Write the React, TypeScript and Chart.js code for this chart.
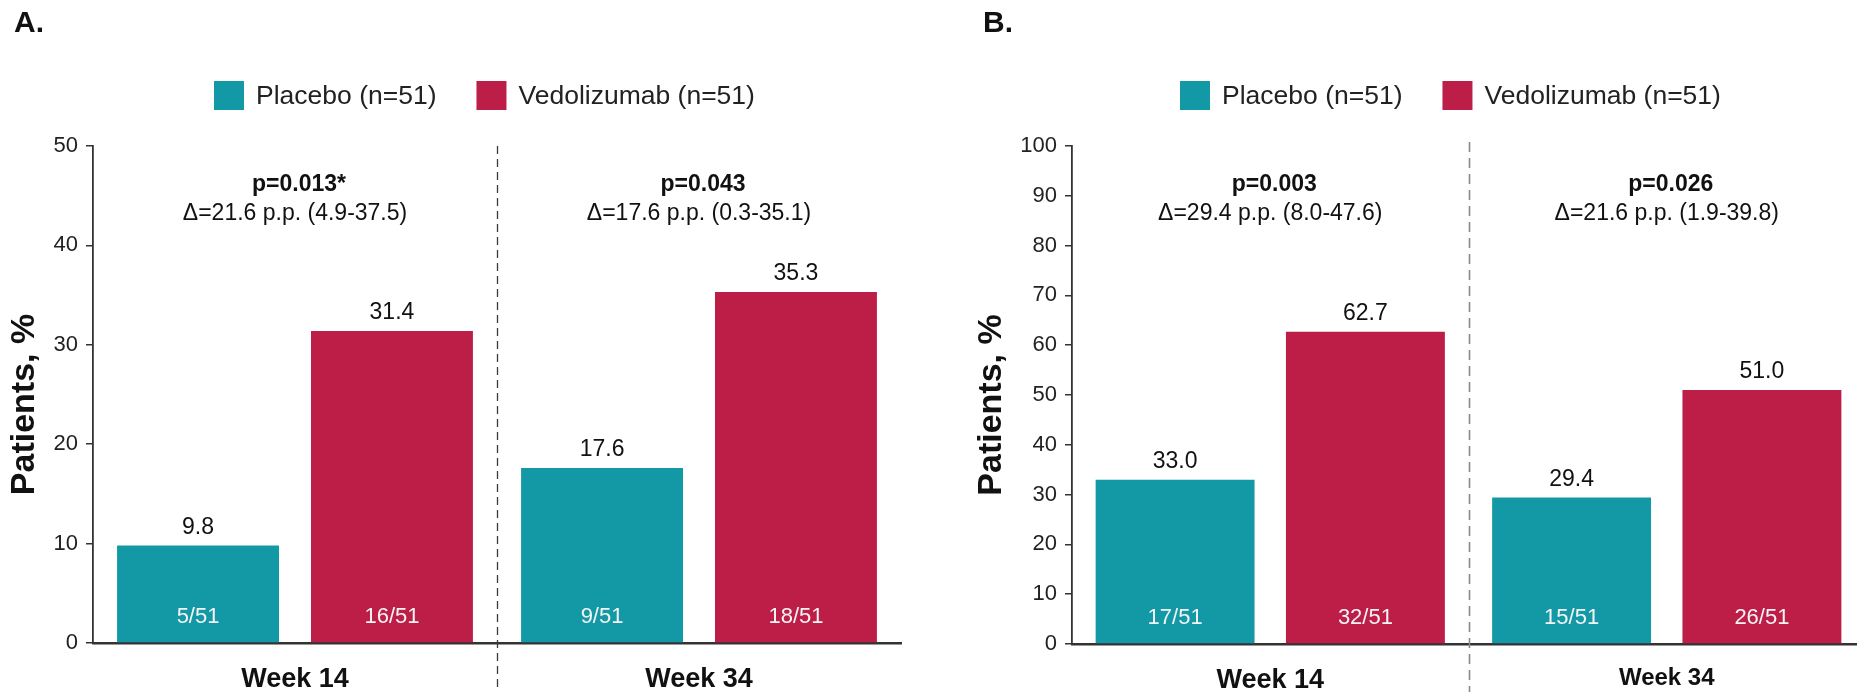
import React, { useEffect, useRef } from 'react';
import { Chart, registerables } from 'chart.js';

Chart.register(...registerables);

// ---------- data ----------
const categories = ['Week 14', 'Week 34'];
const seriesNames = ['Placebo (n=51)', 'Vedolizumab (n=51)'];

const aPlacebo = [9.8, 17.6];
const aVedolizumab = [31.4, 35.3];
const aPlaceboCounts = ['5/51', '9/51'];
const aVedolizumabCounts = ['16/51', '18/51'];
const aPValues = ['p=0.013*', 'p=0.043'];
const aDeltas = ['Δ=21.6 p.p. (4.9-37.5)', 'Δ=17.6 p.p. (0.3-35.1)'];
const aYMax = 50;

const bPlacebo = [33.0, 29.4];
const bVedolizumab = [62.7, 51.0];
const bPlaceboCounts = ['17/51', '15/51'];
const bVedolizumabCounts = ['32/51', '26/51'];
const bPValues = ['p=0.003', 'p=0.026'];
const bDeltas = ['Δ=29.4 p.p. (8.0-47.6)', 'Δ=21.6 p.p. (1.9-39.8)'];
const bYMax = 100;

const yStep = 10;
const yTitle = 'Patients, %';

// ---------- styles ----------
const FONT = '"Liberation Sans", Arial, Helvetica, sans-serif';
const PLACEBO_COLOR = '#1399a6';
const VEDO_COLOR = '#bd1e47';
const TEXT = '#111111';
const AXIS = '#333333';

const panels = [
  {
    letter: 'A.',
    placebo: aPlacebo, vedo: aVedolizumab,
    placeboCounts: aPlaceboCounts, vedoCounts: aVedolizumabCounts,
    pValues: aPValues, deltas: aDeltas, yMax: aYMax,
    canvasLeft: 0, canvasWidth: 930, padRight: 29, yAxisWidth: 93, titleX: 25,
    top: 146, xAxisHeight: 49, legendX: 214, letterX: 14,
    weekFont: [27, 27], dividerColor: '#3a3a3a', dividerWidth: 1.3, dividerDash: [8, 5], dividerTop: 146,
  },
  {
    letter: 'B.',
    placebo: bPlacebo, vedo: bVedolizumab,
    placeboCounts: bPlaceboCounts, vedoCounts: bVedolizumabCounts,
    pValues: bPValues, deltas: bDeltas, yMax: bYMax,
    canvasLeft: 930, canvasWidth: 940, padRight: 5, yAxisWidth: 142, titleX: 62,
    top: 146, xAxisHeight: 48, legendX: 250, letterX: 53,
    weekFont: [27, 24], dividerColor: '#8a8a8a', dividerWidth: 1.6, dividerDash: [10, 6], dividerTop: 142,
  },
];

function makePlugin(p: any) {
  return {
    id: 'annot' + p.letter,
    beforeDatasetsDraw(chart: any) {
      const ctx = chart.ctx;
      const xs = chart.scales.x;
      const x = (xs.getPixelForValue(0) + xs.getPixelForValue(1)) / 2;
      ctx.save();
      ctx.strokeStyle = p.dividerColor;
      ctx.lineWidth = p.dividerWidth;
      ctx.setLineDash(p.dividerDash);
      ctx.beginPath();
      ctx.moveTo(Math.round(x) + 0.5, p.dividerTop);
      ctx.lineTo(Math.round(x) + 0.5, chart.height);
      ctx.stroke();
      ctx.restore();
    },
    afterDatasetsDraw(chart: any) {
      const ctx = chart.ctx;
      const area = chart.chartArea;
      const xs = chart.scales.x;
      ctx.save();
      ctx.textAlign = 'center';
      ctx.textBaseline = 'alphabetic';
      const counts = [p.placeboCounts, p.vedoCounts];
      chart.data.datasets.forEach((ds: any, i: number) => {
        const meta = chart.getDatasetMeta(i);
        meta.data.forEach((el: any, j: number) => {
          ctx.fillStyle = TEXT;
          ctx.font = `23px ${FONT}`;
          ctx.fillText(Number(ds.data[j]).toFixed(1), el.x, el.y - 12);
          ctx.fillStyle = '#f4f4f4';
          ctx.font = `22px ${FONT}`;
          ctx.fillText(counts[i][j], el.x, area.bottom - 20);
        });
      });
      categories.forEach((_, j) => {
        const cx = xs.getPixelForValue(j);
        ctx.fillStyle = TEXT;
        ctx.font = `bold 23px ${FONT}`;
        ctx.fillText(p.pValues[j], cx + 4, area.top + 45);
        ctx.font = `23px ${FONT}`;
        ctx.fillText(p.deltas[j], cx, area.top + 74);
      });
      ctx.restore();
    },
    afterDraw(chart: any) {
      const ctx = chart.ctx;
      const area = chart.chartArea;
      ctx.save();
      // y axis title
      ctx.save();
      ctx.translate(p.titleX, (area.top + area.bottom) / 2 + 10);
      ctx.rotate(-Math.PI / 2);
      ctx.fillStyle = TEXT;
      ctx.textAlign = 'center';
      ctx.textBaseline = 'middle';
      ctx.font = `bold 34px ${FONT}`;
      ctx.fillText(yTitle, 0, 0);
      ctx.restore();
      // panel letter
      ctx.fillStyle = TEXT;
      ctx.textAlign = 'left';
      ctx.textBaseline = 'alphabetic';
      ctx.font = `bold 30px ${FONT}`;
      ctx.fillText(p.letter, p.letterX, 32);
      // legend
      const colors = [PLACEBO_COLOR, VEDO_COLOR];
      ctx.font = `26.5px ${FONT}`;
      ctx.textBaseline = 'middle';
      let x = p.legendX;
      const boxTop = 81, boxSize = 29, boxW = 30;
      seriesNames.forEach((name, i) => {
        ctx.fillStyle = colors[i];
        ctx.fillRect(x, boxTop, boxW, boxSize);
        x += boxW + 12;
        ctx.fillStyle = '#222222';
        ctx.fillText(name, x, boxTop + boxSize / 2 + 1);
        x += ctx.measureText(name).width + 40;
      });
      ctx.restore();
    },
  };
}

function buildConfig(p: any): any {
  return {
    type: 'bar',
    data: {
      labels: categories,
      datasets: [
        { label: seriesNames[0], data: p.placebo, backgroundColor: PLACEBO_COLOR, categoryPercentage: 0.96, barPercentage: 0.835 },
        { label: seriesNames[1], data: p.vedo, backgroundColor: VEDO_COLOR, categoryPercentage: 0.96, barPercentage: 0.835 },
      ],
    },
    options: {
      responsive: false,
      animation: false,
      devicePixelRatio: 1,
      layout: { padding: { top: p.top, left: 0, right: p.padRight, bottom: 0 } },
      plugins: { legend: { display: false }, tooltip: { enabled: false }, title: { display: false } },
      scales: {
        x: {
          grid: { display: false, drawTicks: false },
          border: { display: true, color: AXIS, width: 2.5 },
          afterFit: (s: any) => { s.height = p.xAxisHeight; },
          ticks: {
            color: TEXT,
            padding: 20,
            font: (c: any) => ({ family: FONT, size: p.weekFont[c.index] || 27, weight: 'bold' }),
          },
        },
        y: {
          min: 0,
          max: p.yMax,
          afterFit: (s: any) => { s.width = p.yAxisWidth; },
          grid: { drawOnChartArea: false, drawTicks: true, tickLength: 7, color: AXIS, lineWidth: 1.5 },
          border: { display: true, color: AXIS, width: 1.8 },
          ticks: { stepSize: yStep, color: '#222222', padding: 8, font: { family: FONT, size: 22 } },
          title: { display: false },
        },
      },
    },
    plugins: [makePlugin(p)],
  };
}

export default function App() {
  const refA = useRef<HTMLCanvasElement>(null);
  const refB = useRef<HTMLCanvasElement>(null);

  useEffect(() => {
    const refs = [refA, refB];
    const charts = panels.map((p, i) => new Chart(refs[i].current as HTMLCanvasElement, buildConfig(p)));
    return () => charts.forEach((c) => c.destroy());
  }, []);

  return (
    <div style={{ position: 'absolute', left: 0, top: 0, width: 1857, height: 692, overflow: 'hidden', background: '#ffffff' }}>
      {panels.map((p, i) => (
        <canvas
          key={p.letter}
          ref={i === 0 ? refA : refB}
          width={p.canvasWidth}
          height={692}
          style={{ position: 'absolute', left: p.canvasLeft, top: 0, width: p.canvasWidth, height: 692 }}
        />
      ))}
    </div>
  );
}
